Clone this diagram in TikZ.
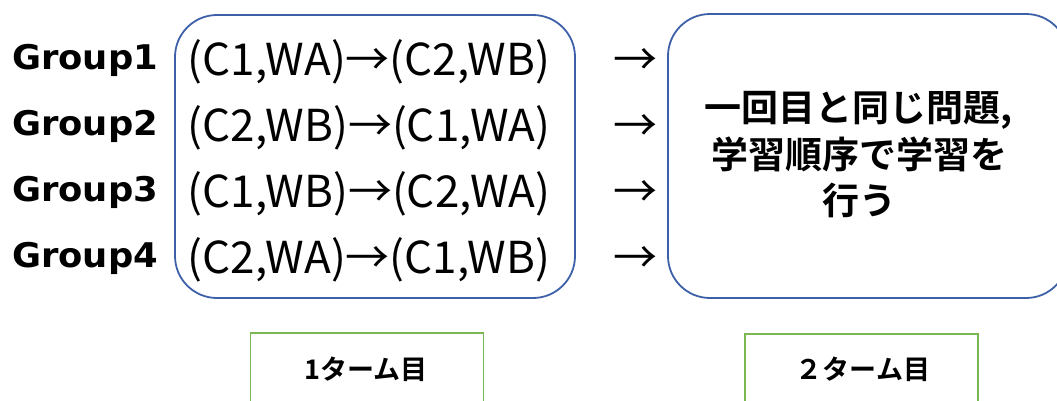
\documentclass[tikz,border=0pt]{standalone}
\usepackage{fontspec}
\setmainfont{Noto Sans CJK JP}[BoldFont={Noto Sans CJK JP Bold}]
\newfontfamily\grpfont[FakeStretch=1.04]{DejaVu Sans Bold}
\definecolor{boxblue}{RGB}{62,96,168}
\definecolor{turngreen}{RGB}{122,182,82}
\begin{document}
\begin{tikzpicture}[x=1pt,y=-1pt,
  grouplabel/.style={anchor=base west,inner sep=0pt,font=\grpfont\fontsize{34}{38}\selectfont},
  order/.style={anchor=base,inner sep=0pt,font=\fontsize{44}{50}\selectfont},
  stepbox/.style={draw=boxblue,line width=1.8pt,rounded corners=42pt,inner sep=0pt},
  turnbox/.style={draw=turngreen,line width=1.6pt,inner sep=0pt,minimum width=233pt,minimum height=90pt},
  turnlabel/.style={inner sep=0pt,font=\bfseries\fontsize{27}{30}\selectfont},
  boxtext/.style={align=center,inner sep=0pt,font=\bfseries\fontsize{37}{46.5}\selectfont}]
\useasboundingbox (0,0) rectangle (1057,400);
\clip (0,0) rectangle (1057,400);

% first turn: four learning orders
\node[stepbox,minimum width=400pt,minimum height=283pt] (first) at (375,156.5) {};
\foreach \g/\txt [count=\i from 0] in {1/{(C1,WA)→(C2,WB)},2/{(C2,WB)→(C1,WA)},3/{(C1,WB)→(C2,WA)},4/{(C2,WA)→(C1,WB)}}{
  \node[grouplabel] (g\g) at (12,69+66.3*\i) {Group\g};
  \node[order] (o\g) at (369,75+66.3*\i) {\txt};
  \node[order] (a\g) at (635,75+66.3*\i) {→};
}

% second turn
\node[stepbox,minimum width=400pt,minimum height=284pt] (second) at (868,156) {};
\node[boxtext] (secondtext) at (859,155) {一回目と同じ問題,\\学習順序で学習を\\行う};

% turn captions
\node[turnbox] (t1box) at (367,378) {};
\node[turnlabel] (t1) at (366,369) {1ターム目};
\node[turnbox] (t2box) at (861.5,379) {};
\node[turnlabel] (t2) at (863,369) {２ターム目};
\end{tikzpicture}
\end{document}
